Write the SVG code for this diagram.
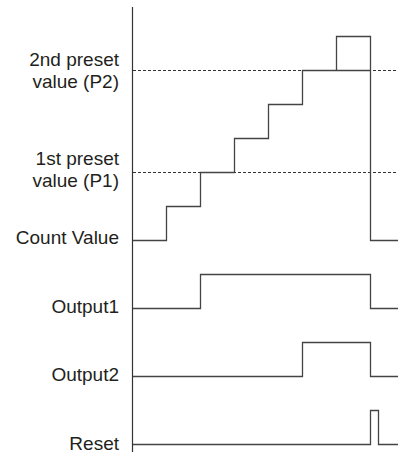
<svg xmlns="http://www.w3.org/2000/svg" width="398" height="455" viewBox="0 0 398 455">
<style>
.lbl{font-family:"Liberation Sans",Arial,sans-serif;font-size:19px;fill:#231f20;text-anchor:end}
.wave{fill:none;stroke:#444;stroke-width:1.3}
.axis{fill:none;stroke:#333;stroke-width:1.2}
.dash{fill:none;stroke:#333;stroke-width:1;stroke-dasharray:3 2}
</style>
<rect width="398" height="455" fill="#fff"/>
<g id="labels">
<g id="label-p2"><text class="lbl" x="119" y="66">2nd preset</text><text class="lbl" x="119" y="87.5">value (P2)</text></g>
<g id="label-p1"><text class="lbl" x="119" y="165">1st preset</text><text class="lbl" x="119" y="186.5">value (P1)</text></g>
<g id="label-count"><text class="lbl" x="119" y="244">Count Value</text></g>
<g id="label-out1"><text class="lbl" x="119" y="313">Output1</text></g>
<g id="label-out2"><text class="lbl" x="119" y="381">Output2</text></g>
<g id="label-reset"><text class="lbl" x="119" y="450">Reset</text></g>
</g>
<g id="connectors">
<line id="axis" class="axis" x1="132.5" y1="7" x2="132.5" y2="452"/>
<line id="p2-level" class="dash" x1="133" y1="70.5" x2="398" y2="70.5"/>
<line id="p1-level" class="dash" x1="133" y1="172.5" x2="398" y2="172.5"/>
<polyline id="count-wave" class="wave" points="133,240.5 166.5,240.5 166.5,206.5 200.5,206.5 200.5,172.5 234.5,172.5 234.5,138.5 268.5,138.5 268.5,104.5 302.5,104.5 302.5,70.5 370.5,70.5"/>
<polyline id="count-reset" class="wave" points="336.5,70.5 336.5,36.5 370.5,36.5 370.5,240.5 398,240.5"/>
<polyline id="out1-wave" class="wave" points="133,308.5 200.5,308.5 200.5,274.5 370.5,274.5 370.5,308.5 398,308.5"/>
<polyline id="out2-wave" class="wave" points="133,376.5 302.5,376.5 302.5,342.5 370.5,342.5 370.5,376.5 398,376.5"/>
<polyline id="reset-wave" class="wave" points="133,444.5 370.5,444.5 370.5,410.5 378.5,410.5 378.5,444.5 398,444.5"/>
</g>
</svg>
